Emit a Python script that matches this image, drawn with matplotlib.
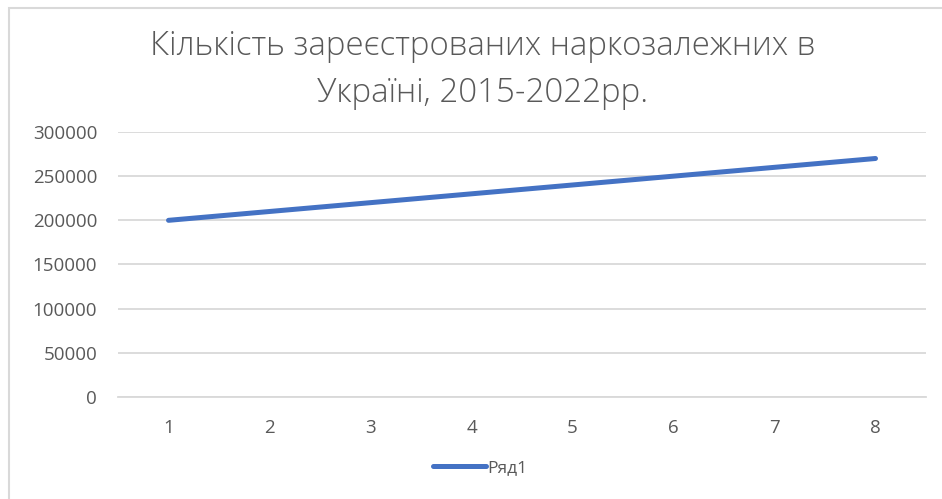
import matplotlib.pyplot as plt
from matplotlib.patches import Rectangle

# --------------------------------------------------
# DATA
# --------------------------------------------------

years_idx = [1, 2, 3, 4, 5, 6, 7, 8]
addicts = [200000, 210000, 220000, 230000, 240000, 250000, 260000, 270000]
y_ticks = [0, 50000, 100000, 150000, 200000, 250000, 300000]
title = "Кількість зареєстрованих наркозалежних в\nУкраїні, 2015-2022рр."
series_name = "Ряд1"

grey_text = "#595959"
grid_col = "#d9d9d9"
line_col = "#4472c4"

plt.rcParams['font.family'] = ['Open Sans', 'DejaVu Sans']

fig = plt.figure(figsize=(9.42, 4.99), dpi=100)
ax = fig.add_axes([0.1253, 0.2044, 0.8577, 0.5311])

# chart border (light grey frame)
fig.patches.append(Rectangle((9 / 942, -0.1), 1.2, 1 - 8 / 499 + 0.1,
                             transform=fig.transFigure, fill=False,
                             edgecolor="#d9d9d9", linewidth=1.5))

ax.plot(years_idx, addicts, color=line_col, linewidth=3.6,
        solid_capstyle='round', label=series_name)

ax.set_xlim(0.5, 8.5)
ax.set_ylim(0, 300000)
ax.set_xticks(years_idx)
ax.set_yticks(y_ticks)
ax.yaxis.grid(True, color=grid_col, linewidth=1.3)
ax.set_axisbelow(True)

for s in ["top", "right", "left"]:
    ax.spines[s].set_visible(False)
ax.spines["bottom"].set_color(grid_col)
ax.spines["bottom"].set_linewidth(1.3)

ax.tick_params(axis="both", length=0, labelsize=13.5, labelcolor=grey_text)
ax.tick_params(axis="y", pad=15)
ax.tick_params(axis="x", pad=16)

fig.text(0.512, 0.86, title, ha="center", va="center", fontsize=23.8,
         color=grey_text, linespacing=1.5, fontweight="light")

leg = fig.legend(loc="center", bbox_to_anchor=(0.51, 0.062), frameon=False,
                 fontsize=12.5, handlelength=3.0, handletextpad=0.1)
for t in leg.get_texts():
    t.set_color(grey_text)

fig.savefig("out.png", dpi=100)
